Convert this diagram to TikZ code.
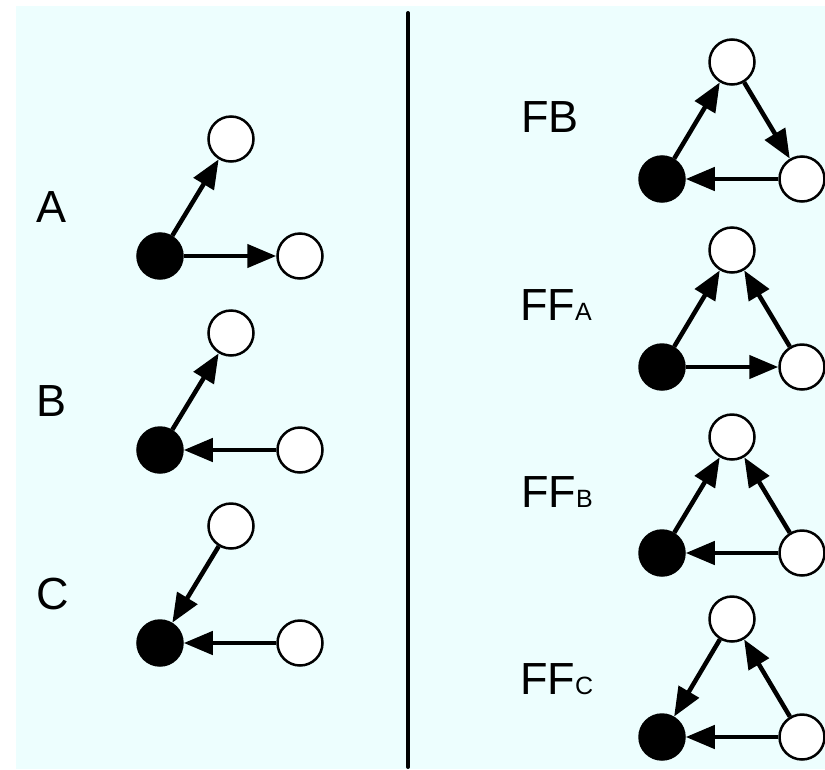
\documentclass[tikz,border=0pt]{standalone}
\usepackage{fontspec}
\setmainfont{Liberation Sans}
\usetikzlibrary{arrows.meta}
\definecolor{bgcyan}{RGB}{237,254,254}
\tikzset{
  wnode/.style={circle,draw=black,line width=2.5pt,fill=white,minimum size=45pt,inner sep=0pt},
  bnode/.style={circle,draw=black,line width=2.5pt,fill=black,minimum size=45pt,inner sep=0pt},
  arr/.style={line width=4.5pt,-{Triangle[length=29pt,width=23pt]}},
  lbl/.style={anchor=base west,inner sep=0pt,font=\fontsize{45}{54}\selectfont},
}
\newcommand{\subl}[1]{{\fontsize{25}{30}\selectfont #1}}
\begin{document}
\begin{tikzpicture}[x=1pt,y=-1pt]
\useasboundingbox (0,0) rectangle (825,769);
\fill[bgcyan] (16,6) rectangle (825,769);
\coordinate (vt) at (408,13);
\coordinate (vb) at (408,767);
\draw[line width=4pt,line cap=round] (vt) -- (vb);

% left labels
\node[lbl] (lA) at (36,222) {A};
\node[lbl] (lB) at (36,416) {B};
\node[lbl] (lC) at (36,609) {C};
% right labels
\node[lbl] (lFB) at (521,132) {FB};
\node[lbl] (lFFA) at (520,320) {FF\subl{A}};
\node[lbl] (lFFB) at (521,507) {FF\subl{B}};
\node[lbl] (lFFC) at (520,694) {FF\subl{C}};

% A
\node[bnode] (a1) at (160,256) {};
\node[wnode] (a2) at (231,139) {};
\node[wnode] (a3) at (300,256) {};
\draw[arr] (a1) -- (a2);
\draw[arr] (a1) -- (a3);
% B
\node[bnode] (b1) at (160,450) {};
\node[wnode] (b2) at (231,333) {};
\node[wnode] (b3) at (300,450) {};
\draw[arr] (b1) -- (b2);
\draw[arr] (b3) -- (b1);
% C
\node[bnode] (c1) at (160,643) {};
\node[wnode] (c2) at (231,526) {};
\node[wnode] (c3) at (300,643) {};
\draw[arr] (c2) -- (c1);
\draw[arr] (c3) -- (c1);

% FB
\node[bnode] (f1) at (662,179) {};
\node[wnode] (f2) at (732,62) {};
\node[wnode] (f3) at (802,179) {};
\draw[arr] (f1) -- (f2);
\draw[arr] (f2) -- (f3);
\draw[arr] (f3) -- (f1);
% FF_A
\node[bnode] (g1) at (662,367) {};
\node[wnode] (g2) at (732,250) {};
\node[wnode] (g3) at (802,367) {};
\draw[arr] (g1) -- (g2);
\draw[arr] (g3) -- (g2);
\draw[arr] (g1) -- (g3);
% FF_B
\node[bnode] (h1) at (662,553) {};
\node[wnode] (h2) at (732,437) {};
\node[wnode] (h3) at (802,553) {};
\draw[arr] (h1) -- (h2);
\draw[arr] (h3) -- (h2);
\draw[arr] (h3) -- (h1);
% FF_C
\node[bnode] (k1) at (662,737) {};
\node[wnode] (k2) at (732,619) {};
\node[wnode] (k3) at (802,737) {};
\draw[arr] (k2) -- (k1);
\draw[arr] (k3) -- (k2);
\draw[arr] (k3) -- (k1);
\end{tikzpicture}
\end{document}
